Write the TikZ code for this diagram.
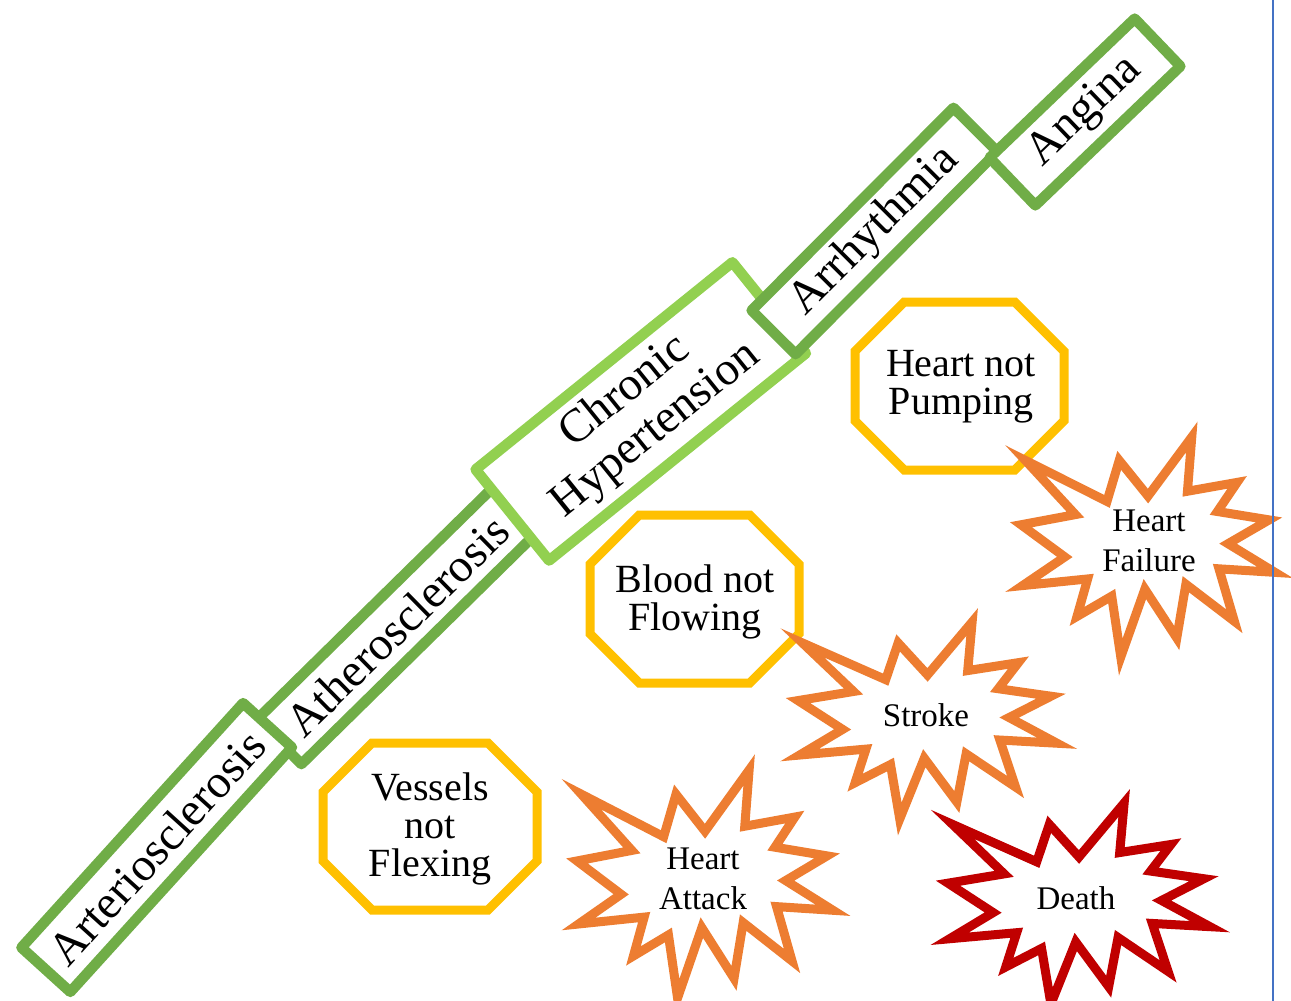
\documentclass[tikz,border=0pt]{standalone}
\usepackage{fontspec}
\setmainfont{Liberation Serif}
\definecolor{grn}{HTML}{70AD47}
\definecolor{lgrn}{HTML}{92D050}
\definecolor{gold}{HTML}{FFC000}
\definecolor{orng}{HTML}{ED7D31}
\definecolor{dred}{HTML}{C00000}
\definecolor{pageblue}{HTML}{4472C4}
\newcommand\drawseal[5]{%
  \draw[burst,draw=#5,shift={(#1,#2)},xscale=#3/216,yscale=#4/216]
  (108,58) -- (145.22,0) -- (141.55,53.25) -- (183.80,44.57) -- (167.02,73.15)
  -- (210.97,81.37) -- (176.07,104.75) -- (216,132.90) -- (168.37,129.42)
  -- (181.45,180.95) -- (140.20,144.57) -- (132.47,197.37) -- (105.32,149.35)
  -- (84.85,216) -- (77.15,156.27) -- (47.62,176.17) -- (56.67,139.37)
  -- (1.35,145.87) -- (37.22,117.75) -- (0,86.15) -- (46.27,76.17)
  -- (3.70,22.95) -- (73.12,63.20) -- (83.52,22.95) -- cycle;}
\newcommand\drawoct[4]{%
  \pgfmathsetmacro\octc{0.2929*min(#3-#1,#4-#2)}%
  \draw[oct] (#1+\octc,#2) -- (#3-\octc,#2) -- (#3,#2+\octc) -- (#3,#4-\octc)
  -- (#3-\octc,#4) -- (#1+\octc,#4) -- (#1,#4-\octc) -- (#1,#2+\octc) -- cycle;}
\begin{document}
\begin{tikzpicture}[x=1pt,y=-1pt,
  gbox/.style={draw=grn,line width=10.5pt,fill=white,line join=round,inner sep=0pt,
    font=\fontsize{47}{49}\selectfont,align=center},
  oct/.style={draw=gold,line width=9pt,fill=white,line join=miter},
  burst/.style={line width=9pt,fill=white,line join=miter},
  otext/.style={font=\fontsize{40}{38}\selectfont,align=center,inner sep=0pt},
  btext/.style={font=\fontsize{33}{40}\selectfont,align=center,inner sep=0pt}]
\useasboundingbox (0,0) rectangle (1291,1001);
% diagonal boxes
\node[gbox,rotate=44.5,minimum width=330,minimum height=63] (ath) at (397,626) {Atherosclerosis};
\node[gbox,rotate=47.8,minimum width=330,minimum height=66] (art) at (156.7,847.5) {Arteriosclerosis};
\node[gbox,draw=lgrn,rotate=38.9,minimum width=330,minimum height=117] (chr) at (640.75,411.4) {Chronic\\Hypertension};
\node[gbox,rotate=45.1,minimum width=286,minimum height=62] (arr) at (874.5,231) {Arrhythmia};
\node[gbox,rotate=43.8,minimum width=201,minimum height=66] (ang) at (1085,112) {Angina};
% octagons
\drawoct{323}{743}{537}{910}
\node[otext] (ves) at (430,828.7) {Vessels\\not\\Flexing};
\drawoct{590}{515}{799}{683}
\node[otext] (blo) at (695,602.2) {Blood not\\Flowing};
\drawoct{855}{302}{1064}{470}
\node[otext] (pum) at (961,387.2) {Heart not\\Pumping};
% bursts
\drawseal{577}{770}{256}{228}{orng}
\node[btext] (hat) at (703,878.8) {Heart\\Attack};
\drawseal{798}{622}{259}{197}{orng}
\node[btext] (str) at (926,715.4) {Stroke};
\drawseal{1021}{437}{254}{220}{orng}
\node[btext] (hfl) at (1149,540.5) {Heart\\Failure};
\drawseal{948}{803}{262}{201}{dred}
\node[btext] (dth) at (1076,898.7) {Death};
% page edge
\coordinate (pt) at (1273,0);
\coordinate (pb) at (1273,1001);
\draw[pageblue,line width=2pt] (pt) -- (pb);
\end{tikzpicture}
\end{document}
